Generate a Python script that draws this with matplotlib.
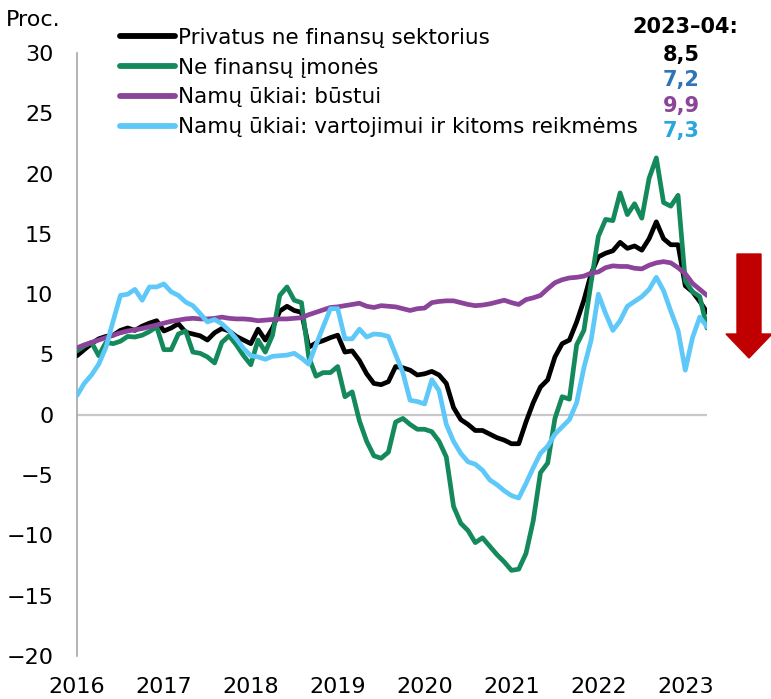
import matplotlib
matplotlib.use('Agg')
import matplotlib.pyplot as plt
import numpy as np
from matplotlib.patches import FancyArrow

plt.rcParams['font.family'] = ['DejaVu Sans']

# Monthly observations, Jan 2016 .. Apr 2023
year_labels = ['2016', '2017', '2018', '2019', '2020', '2021', '2022', '2023']

private_sector = [4.9, 5.4, 5.9, 6.3, 6.5, 6.6, 7.0, 7.2, 7.0, 7.35, 7.6, 7.8,
                  6.95, 7.2, 7.55, 6.85, 6.7, 6.55, 6.2, 6.8, 7.15, 6.95, 6.5, 6.2,
                  5.9, 7.1, 6.2, 7.2, 8.6, 9.0, 8.65, 8.5, 5.6, 5.95, 6.15, 6.4,
                  6.6, 5.2, 5.3, 4.5, 3.4, 2.6, 2.5, 2.75, 4.0, 3.9, 3.7, 3.3,
                  3.4, 3.6, 3.3, 2.6, 0.6, -0.4, -0.8, -1.3, -1.3, -1.6, -1.9, -2.1,
                  -2.4, -2.4, -0.6, 1.0, 2.3, 2.9, 4.8, 5.9, 6.2, 7.7, 9.5, 11.7,
                  13.1, 13.4, 13.6, 14.3, 13.8, 14.0, 13.65, 14.6, 16.0, 14.6, 14.1, 14.1,
                  10.7, 10.2, 9.4, 8.5]

nfc = [5.3, 5.7, 6.0, 4.9, 6.0, 5.9, 6.1, 6.5, 6.45, 6.6, 6.9, 7.3,
       5.4, 5.4, 6.7, 6.95, 5.2, 5.1, 4.8, 4.3, 6.0, 6.55, 5.8, 4.9,
       4.15, 6.2, 5.2, 6.6, 9.9, 10.6, 9.5, 9.3, 4.8, 3.2, 3.5, 3.5,
       4.0, 1.5, 1.9, -0.5, -2.2, -3.4, -3.6, -3.1, -0.6, -0.3, -0.8, -1.2,
       -1.2, -1.4, -2.2, -3.5, -7.6, -9.0, -9.6, -10.6, -10.2, -10.9, -11.6, -12.2,
       -12.9, -12.8, -11.5, -8.8, -4.8, -4.0, -0.3, 1.5, 1.3, 5.8, 7.0, 11.0,
       14.8, 16.2, 16.1, 18.4, 16.6, 17.5, 16.3, 19.6, 21.3, 17.6, 17.3, 18.2,
       11.1, 10.2, 9.8, 7.2]

housing = [5.55, 5.8, 6.0, 6.2, 6.4, 6.6, 6.8, 6.95, 7.05, 7.15, 7.3, 7.45,
           7.6, 7.75, 7.85, 7.95, 8.0, 7.95, 7.95, 8.0, 8.1, 8.0, 7.95, 7.95,
           7.9, 7.8, 7.85, 7.9, 7.95, 7.95, 8.0, 8.05, 8.3, 8.5, 8.7, 8.9,
           8.95, 9.05, 9.15, 9.25, 9.0, 8.9, 9.05, 9.0, 8.95, 8.8, 8.65, 8.8,
           8.85, 9.3, 9.4, 9.45, 9.45, 9.3, 9.15, 9.05, 9.1, 9.2, 9.35, 9.5,
           9.3, 9.15, 9.55, 9.7, 9.9, 10.45, 10.95, 11.2, 11.35, 11.4, 11.5, 11.75,
           11.85, 12.2, 12.35, 12.3, 12.3, 12.15, 12.1, 12.4, 12.6, 12.7, 12.6, 12.2,
           11.7, 10.9, 10.4, 9.9]

consumer = [1.6, 2.6, 3.3, 4.2, 5.6, 7.8, 9.9, 10.0, 10.4, 9.5, 10.6, 10.6,
            10.85, 10.2, 9.9, 9.35, 9.05, 8.4, 7.7, 7.9, 7.55, 7.0, 6.3, 5.5,
            4.9, 4.8, 4.6, 4.85, 4.9, 4.95, 5.1, 4.7, 4.2, 5.8, 7.3, 8.8,
            8.8, 6.3, 6.3, 7.1, 6.45, 6.7, 6.65, 6.5, 5.0, 3.5, 1.2, 1.1,
            0.9, 2.9, 2.0, -0.8, -2.2, -3.2, -3.9, -4.1, -4.6, -5.4, -5.8, -6.3,
            -6.7, -6.9, -5.7, -4.4, -3.2, -2.6, -1.6, -1.0, -0.4, 1.0, 3.9, 6.2,
            10.0, 8.4, 7.0, 7.8, 9.0, 9.4, 9.8, 10.4, 11.4, 10.3, 8.6, 7.0,
            3.7, 6.4, 8.1, 7.3]

series_names = ['Privatus ne finansų sektorius', 'Ne finansų įmonės',
                'Namų ūkiai: būstui', 'Namų ūkiai: vartojimui ir kitoms reikmėms']
series_colors = ['#000000', '#148A5C', '#8B4499', '#5EC8F8']
latest_labels = ['8,5', '7,2', '9,9', '7,3']
latest_colors = ['#000000', '#2E75B6', '#8B4499', '#2AA6DF']

x = np.arange(len(private_sector))

fig = plt.figure(figsize=(7.71, 6.99), dpi=100)
ax = fig.add_axes([77 / 771, 1 - 656 / 699, (707 - 77) / 771, (656 - 53) / 699])

ax.axhline(0, color='#C8C8C8', lw=1.6, zorder=1)

for vals, name, col in zip([private_sector, nfc, housing, consumer], series_names, series_colors):
    ax.plot(x, vals, color=col, lw=3.4, label=name, solid_joinstyle='round',
            solid_capstyle='round', zorder=3)

ax.set_xlim(0, len(x) - 1)
ax.set_ylim(-20, 30)
ax.set_yticks(np.arange(-20, 31, 5))
ax.set_yticklabels([str(v).replace('-', '\u2212') for v in range(-20, 31, 5)])
ax.set_xticks(np.arange(0, len(x), 12))
ax.set_xticklabels(year_labels)
ax.tick_params(axis='both', length=0, labelsize=16)
ax.tick_params(axis='y', pad=17)
ax.tick_params(axis='x', pad=15)

for s in ['top', 'right', 'bottom']:
    ax.spines[s].set_visible(False)
ax.spines['left'].set_color('#A6A6A6')
ax.spines['left'].set_linewidth(1.2)

leg = ax.legend(loc='upper left', bbox_to_anchor=(120 / 771, 1 - 28 / 699),
                bbox_transform=fig.transFigure, frameon=False, fontsize=15.5,
                handlelength=2.55, handletextpad=0.15, labelspacing=0.45,
                borderpad=0, borderaxespad=0)
for h in leg.get_lines():
    h.set_linewidth(4.2)
    h.set_solid_capstyle('round')

fig.text(6 / 771, 1 - 20 / 699, 'Proc.', fontsize=16, va='center', ha='left')
fig.text(738 / 771, 1 - 27 / 699, '2023\u201304:', fontsize=15, fontweight='bold',
         va='center', ha='right')
for i, (lab, col) in enumerate(zip(latest_labels, latest_colors)):
    fig.text(700 / 771, 1 - (55 + 25.3 * i) / 699, lab, fontsize=15, fontweight='bold',
             color=col, va='center', ha='right')

arrow = FancyArrow(749 / 771, 1 - 254 / 699, 0, -(358 - 254) / 699,
                   width=24 / 771, head_width=46 / 771, head_length=24 / 699,
                   length_includes_head=True, color='#C00000',
                   transform=fig.transFigure)
fig.patches.append(arrow)

fig.savefig('out.png', dpi=100)
